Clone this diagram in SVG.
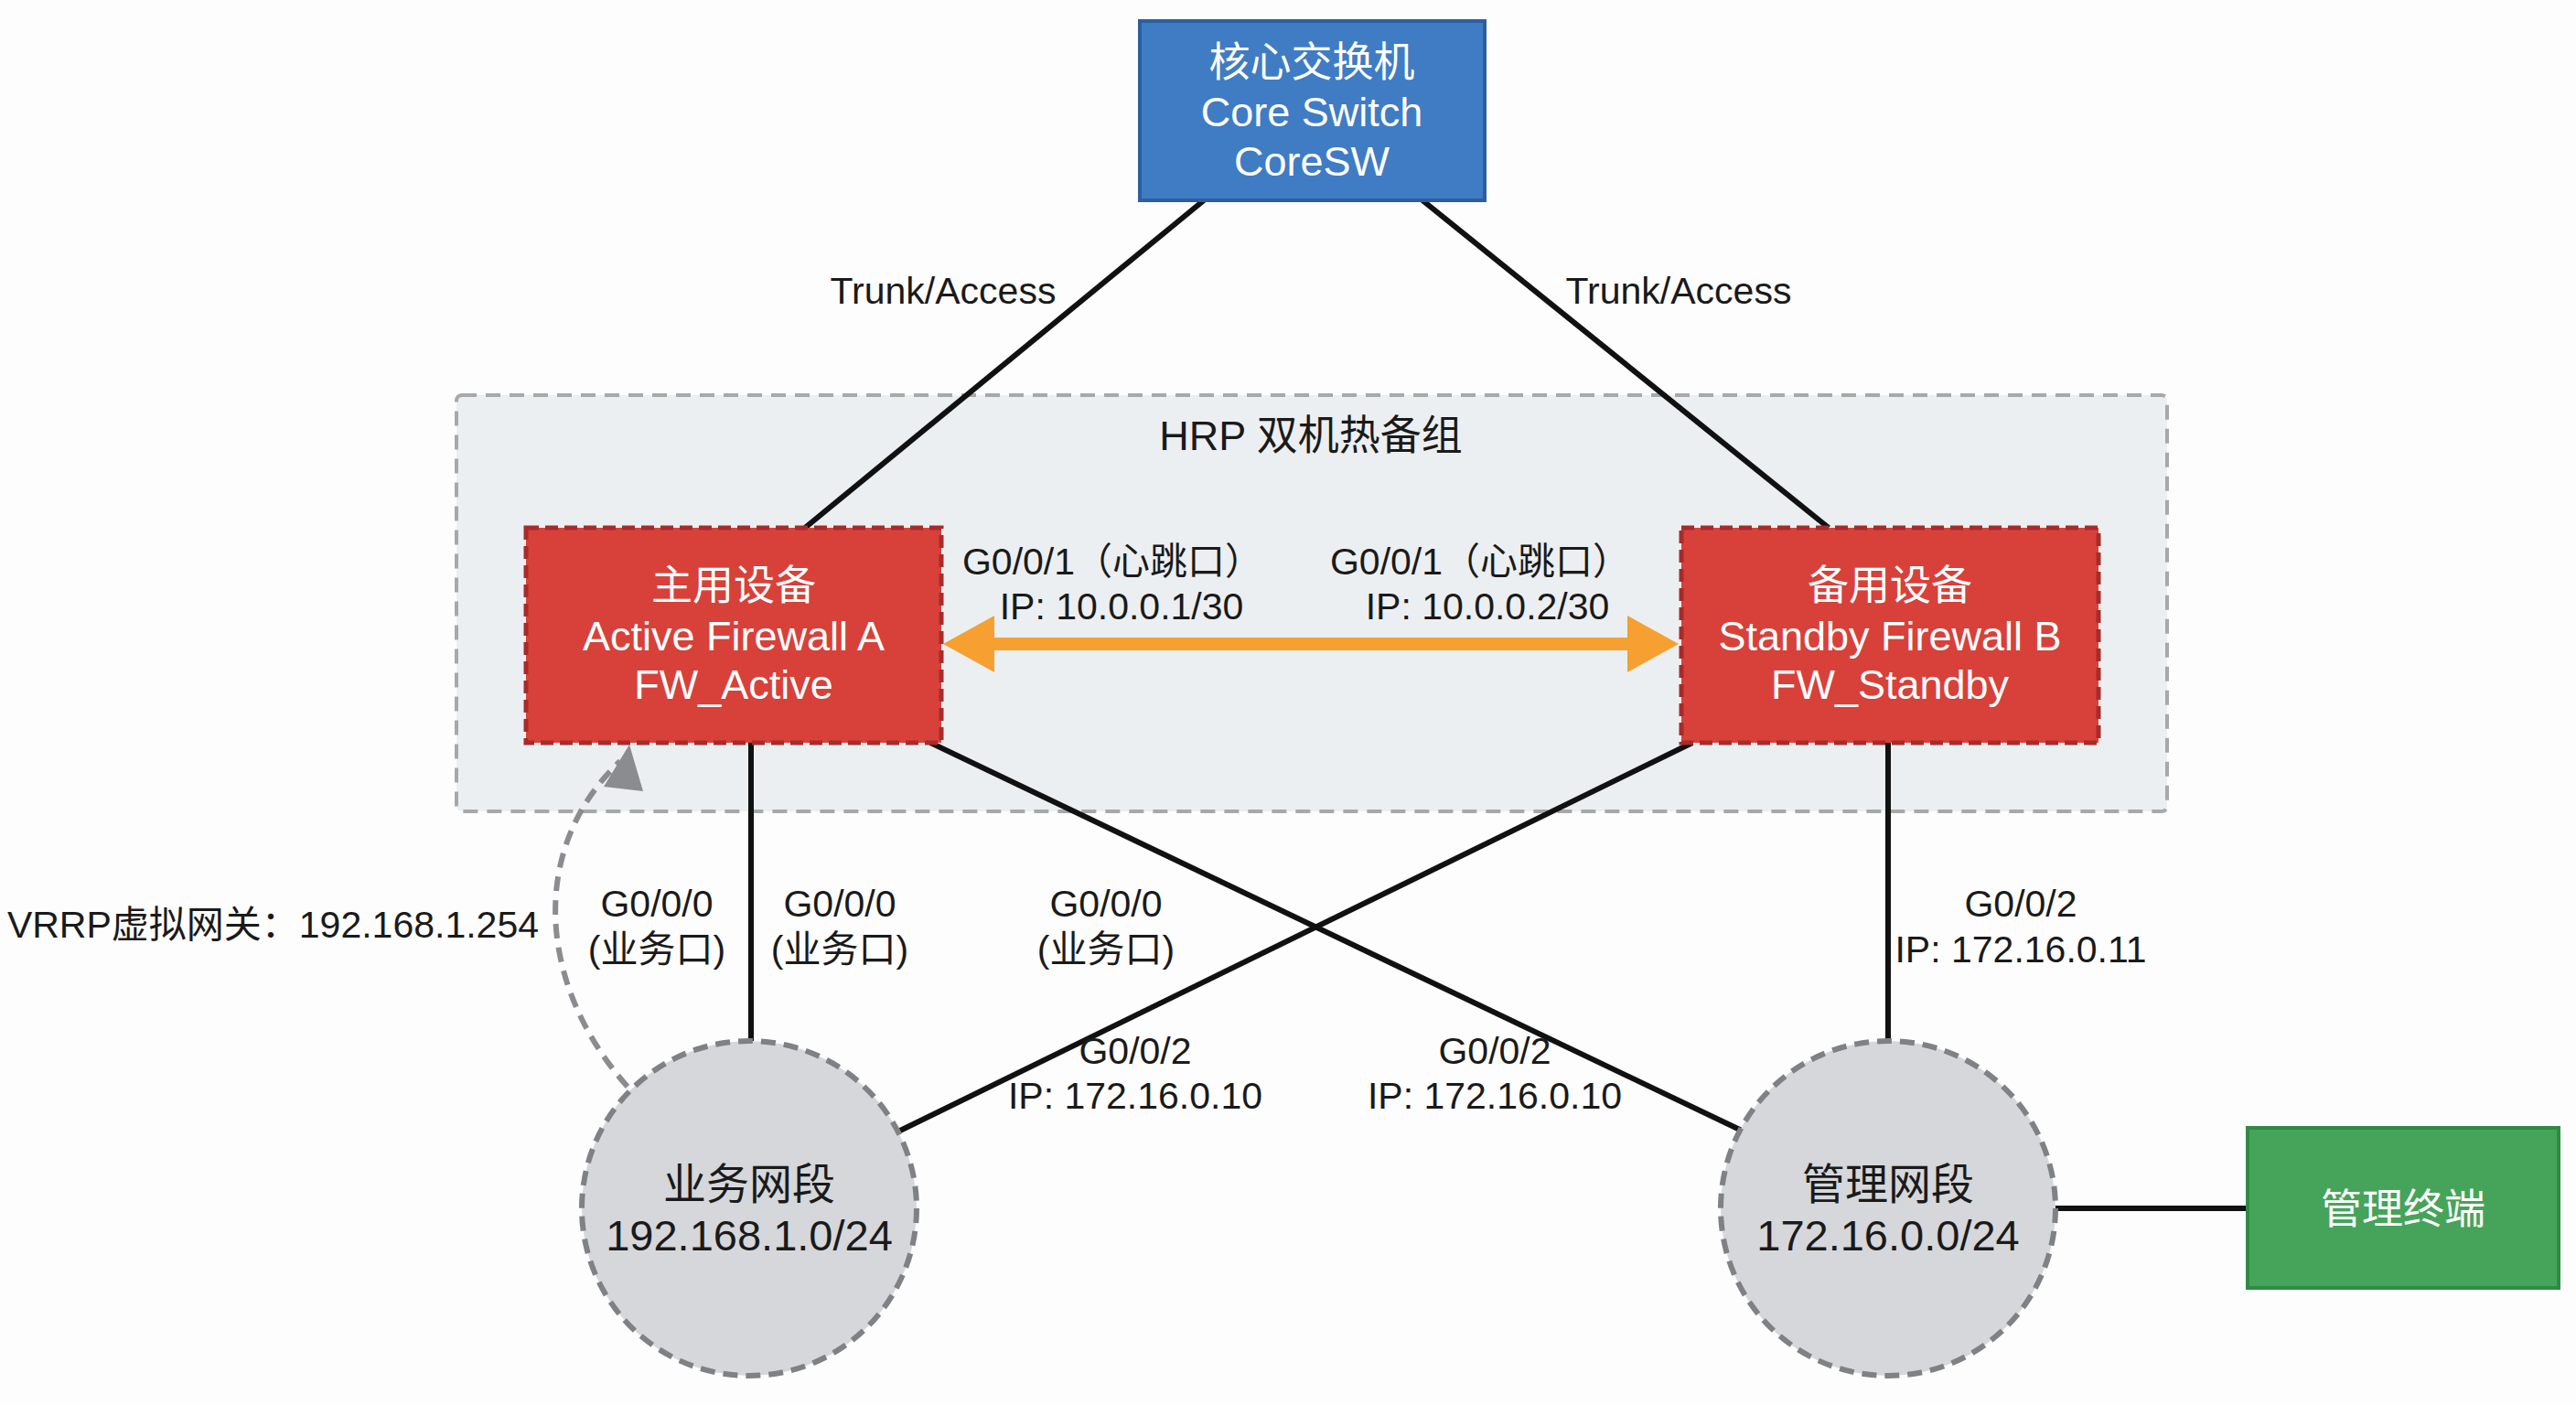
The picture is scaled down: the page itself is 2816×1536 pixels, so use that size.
<svg xmlns="http://www.w3.org/2000/svg" width="2816" height="1536" viewBox="0 0 2816 1536">
<defs>
<style>
text{font-family:"Liberation Sans","Noto Sans CJK SC",sans-serif;}
.lbl{font-size:41px;fill:#1a1a1a;text-anchor:middle;}
.nw{font-size:45px;fill:#ffffff;text-anchor:middle;}
.nb{font-size:47px;fill:#1a1a1a;text-anchor:middle;}
.link{stroke:#111;stroke-width:6;fill:none;}
.fw{fill:#d7413a;stroke:#a82b2b;stroke-width:5;stroke-dasharray:14 7;}
.seg{fill:#d5d7da;stroke:#7f8184;stroke-width:6;stroke-dasharray:16 9;}
</style>
</defs>
<rect width="2816" height="1536" fill="#fdfdfd"/>

<g id="hrp-group">
<rect x="499" y="432" width="1870" height="455" rx="6" fill="#eceff1" stroke="#a6a8aa" stroke-width="4" stroke-dasharray="16 10"/>
<text x="1433" y="492" font-size="45" fill="#1a1a1a" text-anchor="middle">HRP 双机热备组</text>
</g>

<g id="connectors">
<line class="link" x1="1316" y1="219" x2="880" y2="577"/>
<line class="link" x1="1555" y1="219" x2="1999" y2="577"/>
<line class="link" x1="821" y1="812" x2="821" y2="1138"/>
<line class="link" x1="1017" y1="812" x2="1904" y2="1236"/>
<line class="link" x1="1850" y1="812" x2="984" y2="1236"/>
<line class="link" x1="2064" y1="812" x2="2064" y2="1138"/>
<line class="link" x1="2247" y1="1321" x2="2457" y2="1321" stroke-width="7"/>
<g id="heartbeat">
<line x1="1080" y1="704" x2="1786" y2="704" stroke="#f5a030" stroke-width="14"/>
<polygon points="1031,704 1087,673 1087,735" fill="#f5a030"/>
<polygon points="1835,704 1779,673 1779,735" fill="#f5a030"/>
</g>
<path d="M 686 1188 C 590 1080, 575 930, 678 832" fill="none" stroke="#8a8c8f" stroke-width="6" stroke-dasharray="16 10"/>
<polygon points="688,814 660,860 703,865" fill="#8a8c8f"/>
</g>

<g id="core-switch">
<rect x="1246" y="23" width="377" height="196" fill="#3f7cc4" stroke="#2c5f9e" stroke-width="4"/>
<text class="nw" x="1434" y="84" font-size="46">核心交换机</text>
<text class="nw" x="1434" y="138" font-size="46">Core Switch</text>
<text class="nw" x="1434" y="192" font-size="46">CoreSW</text>
</g>

<g id="fw-active">
<rect class="fw" x="575" y="577" width="454" height="235"/>
<text class="nw" x="802" y="656">主用设备</text>
<text class="nw" x="802" y="711">Active Firewall A</text>
<text class="nw" x="802" y="764">FW_Active</text>
</g>

<g id="fw-standby">
<rect class="fw" x="1838" y="577" width="456" height="235"/>
<text class="nw" x="2066" y="656">备用设备</text>
<text class="nw" x="2066" y="711">Standby Firewall B</text>
<text class="nw" x="2066" y="764">FW_Standby</text>
</g>

<g id="biz-segment">
<circle class="seg" cx="819" cy="1321" r="183"/>
<text class="nb" x="819" y="1311">业务网段</text>
<text class="nb" x="819" y="1367">192.168.1.0/24</text>
</g>

<g id="mgmt-segment">
<circle class="seg" cx="2064" cy="1321" r="183"/>
<text class="nb" x="2064" y="1311">管理网段</text>
<text class="nb" x="2064" y="1367">172.16.0.0/24</text>
</g>

<g id="mgmt-terminal">
<rect x="2457" y="1233" width="340" height="175" fill="#45a45a" stroke="#2e8b45" stroke-width="4"/>
<text class="nw" x="2627" y="1338">管理终端</text>
</g>

<g id="labels">
<text class="lbl" x="1031" y="332">Trunk/Access</text>
<text class="lbl" x="1835" y="332">Trunk/Access</text>
<text class="lbl" x="1216" y="628">G0/0/1（心跳口）</text>
<text class="lbl" x="1226" y="677">IP: 10.0.0.1/30</text>
<text class="lbl" x="1618" y="628">G0/0/1（心跳口）</text>
<text class="lbl" x="1626" y="677">IP: 10.0.0.2/30</text>
<text class="lbl" x="589" y="1025" style="text-anchor:end">VRRP虚拟网关：192.168.1.254</text>
<text class="lbl" x="718" y="1002">G0/0/0</text>
<text class="lbl" x="718" y="1052">(业务口)</text>
<text class="lbl" x="918" y="1002">G0/0/0</text>
<text class="lbl" x="918" y="1052">(业务口)</text>
<text class="lbl" x="1209" y="1002">G0/0/0</text>
<text class="lbl" x="1209" y="1052">(业务口)</text>
<text class="lbl" x="1241" y="1163">G0/0/2</text>
<text class="lbl" x="1241" y="1212">IP: 172.16.0.10</text>
<text class="lbl" x="1634" y="1163">G0/0/2</text>
<text class="lbl" x="1634" y="1212">IP: 172.16.0.10</text>
<text class="lbl" x="2209" y="1002">G0/0/2</text>
<text class="lbl" x="2209" y="1052">IP: 172.16.0.11</text>
</g>
</svg>
